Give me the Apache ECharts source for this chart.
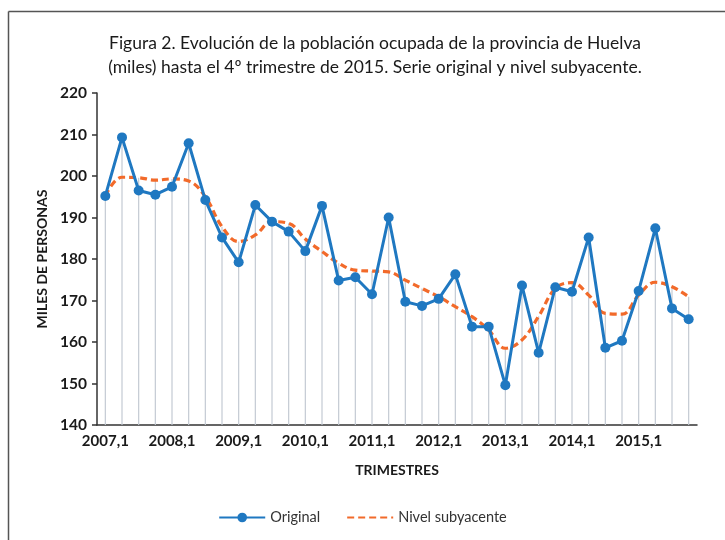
<!DOCTYPE html>
<html>
<head>
<meta charset="utf-8">
<script src="https://cdn.jsdelivr.net/npm/echarts@6/dist/echarts.min.js"></script>
<style>
html,body{margin:0;padding:0;background:#fff;}
#chart{width:725px;height:540px;}
</style>
</head>
<body>
<div id="chart"></div>
<script>
var categories = [
  "2007,1","2007,2","2007,3","2007,4",
  "2008,1","2008,2","2008,3","2008,4",
  "2009,1","2009,2","2009,3","2009,4",
  "2010,1","2010,2","2010,3","2010,4",
  "2011,1","2011,2","2011,3","2011,4",
  "2012,1","2012,2","2012,3","2012,4",
  "2013,1","2013,2","2013,3","2013,4",
  "2014,1","2014,2","2014,3","2014,4",
  "2015,1","2015,2","2015,3","2015,4"
];
var original = [
  195.2,209.3,196.5,195.5,
  197.4,207.9,194.2,185.2,
  179.2,193.0,189.0,186.6,
  181.9,192.8,174.8,175.6,
  171.5,190.0,169.7,168.7,
  170.4,176.3,163.7,163.7,
  149.6,173.6,157.4,173.2,
  172.1,185.2,158.6,160.3,
  172.3,187.4,168.1,165.5
];
var nivelSubyacente = [
  195.2,199.7,199.6,199.0,
  199.3,198.8,195.0,187.8,
  184.2,185.8,189.0,188.6,
  184.8,181.8,179.0,177.3,
  177.1,176.9,174.9,172.9,
  170.9,168.5,166.1,162.9,
  158.5,160.5,166.2,172.9,
  174.3,171.3,166.9,166.7,
  171.3,174.4,173.3,170.9
];
var yTicks = [140,150,160,170,180,190,200,210,220];

var dropTop = original.map(function(v,i){ return Math.max(v, nivelSubyacente[i]); });

var FONT = 'Lato, "Open Sans", sans-serif';
var chart = echarts.init(document.getElementById('chart'), null, {renderer:'canvas'});
chart.setOption({
  animation:false,
  backgroundColor:'#ffffff',
  title:{
    text:'Figura 2. Evolución de la población ocupada de la provincia de Huelva\n(miles) hasta el 4º trimestre de 2015. Serie original y nivel subyacente.',
    left:370, top:26, textAlign:'center',
    textStyle:{fontFamily:FONT, fontSize:17.5, fontWeight:'normal', color:'#1a1a1a', lineHeight:24}
  },
  graphic:[
    {type:'line', shape:{x1:8.5,y1:11.5,x2:725,y2:11.5}, style:{stroke:'#555',lineWidth:1.5}},
    {type:'line', shape:{x1:8.5,y1:11.5,x2:8.5,y2:540}, style:{stroke:'#555',lineWidth:1.5}}
  ],
  legend:{
    data:[{name:'Original'},{name:'Nivel subyacente', itemStyle:{opacity:0}}],
    bottom:10, left:'center',
    itemWidth:46, itemHeight:12, itemGap:26,
    textStyle:{fontFamily:FONT, fontSize:14.5, color:'#333'}
  },
  grid:{left:97, right:28, top:93, bottom:115},
  xAxis:{
    type:'category', data:categories, boundaryGap:true,
    name:'TRIMESTRES', nameLocation:'middle', nameGap:38,
    nameTextStyle:{fontFamily:FONT, fontSize:14, fontWeight:'bold', color:'#1a1a1a'},
    axisLine:{lineStyle:{color:'#333', width:1.5}},
    axisTick:{interval:3, length:5, lineStyle:{color:'#333', width:1.5}},
    axisLabel:{interval:3, fontFamily:FONT, fontSize:15, fontWeight:'bold', color:'#1a1a1a', margin:9},
    splitLine:{show:false}
  },
  yAxis:{
    type:'value', min:yTicks[0], max:yTicks[yTicks.length-1], interval:10,
    name:'MILES DE PERSONAS', nameLocation:'middle', nameGap:47, nameRotate:90,
    nameTextStyle:{fontFamily:FONT, fontSize:14, fontWeight:'bold', color:'#1a1a1a'},
    axisLine:{show:true, lineStyle:{color:'#333', width:1.5}},
    axisTick:{show:true, length:5, lineStyle:{color:'#333', width:1.5}},
    axisLabel:{fontFamily:FONT, fontSize:15.5, fontWeight:'bold', color:'#1a1a1a', margin:10},
    splitLine:{show:false}
  },
  series:[
    {
      name:'drop', type:'bar', data:dropTop, barWidth:1.2, barGap:'-100%',
      itemStyle:{color:'#c3cad3'}, silent:true, z:1, clip:true
    },
    {
      name:'Nivel subyacente', type:'line', data:nivelSubyacente, smooth:0.4,
      symbol:'none', z:3,
      lineStyle:{color:'#f26a2a', width:3.2, type:[7,4]},
      itemStyle:{color:'#f26a2a'}
    },
    {
      name:'Original', type:'line', data:original, smooth:false,
      symbol:'circle', symbolSize:10, z:4,
      lineStyle:{color:'#1f78c1', width:3},
      itemStyle:{color:'#1f78c1'}
    }
  ]
});
</script>
</body>
</html>
